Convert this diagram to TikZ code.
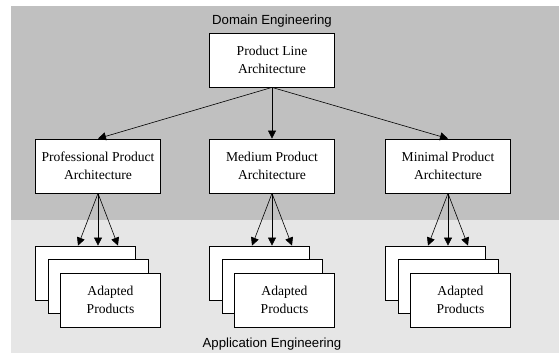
\documentclass[tikz,border=0pt]{standalone}
\usepackage{fontspec}
\setmainfont{Liberation Serif}
\newfontfamily\helv{Liberation Sans}
\usetikzlibrary{arrows.meta,calc}
\definecolor{darkbg}{HTML}{C0C0C0}
\definecolor{lightbg}{HTML}{E6E6E6}
\tikzset{
  boxnode/.style={draw=black, fill=white, line width=0.8pt, minimum width=125pt, minimum height=54pt, align=center, inner sep=0pt, font=\fontsize{13.6}{18}\selectfont},
  prodbox/.style={draw=black, fill=white, line width=0.8pt, minimum width=100pt, minimum height=54pt, align=center, inner sep=0pt, font=\fontsize{13.6}{18}\selectfont},
  arr/.style={-{Triangle[length=8pt,width=8pt]}, line width=0.6pt},
  zonelabel/.style={font=\helv\fontsize{13.2}{16}\selectfont, anchor=base, inner sep=0pt}
}
\begin{document}
\begin{tikzpicture}[x=1pt,y=-1pt]
\useasboundingbox (0,0) rectangle (559,354);
\fill[darkbg] (11,6) rectangle (559,220);
\fill[lightbg] (11,220) rectangle (559,353);
\node[zonelabel] (dom) at (272,24) {Domain Engineering};
\node[zonelabel] (app) at (272,347) {Application Engineering};

\node[boxnode] (pla) at (272,60) {Product Line\\Architecture};
\node[boxnode] (pro) at (98,166) {Professional Product\\Architecture};
\node[boxnode] (med) at (272,166) {Medium Product\\Architecture};
\node[boxnode] (min) at (448,166) {Minimal Product\\Architecture};

\draw[arr] (pla.south) -- (pro.north);
\draw[arr] (pla.south) -- (med.north);
\draw[arr] (pla.south) -- (min.north);

\foreach \n/\cx in {pro/98, med/272, min/448} {
  \node[prodbox] (\n a) at (\cx-12.5,273) {};
  \node[prodbox] (\n b) at (\cx,286.5) {};
  \node[prodbox] (\n c) at (\cx+12.5,300) {Adapted\\Products};
  \draw[arr] (\n.south) -- ($(\n.south |- \n a.north)+(-20,0)$);
  \draw[arr] (\n.south) -- (\n.south |- \n a.north);
  \draw[arr] (\n.south) -- ($(\n.south |- \n a.north)+(20,0)$);
}
\end{tikzpicture}
\end{document}
